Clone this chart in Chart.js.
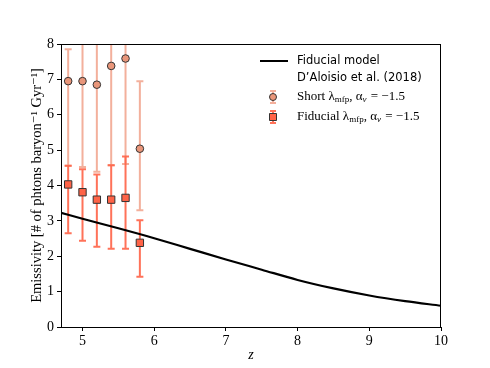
<!DOCTYPE html>
<html><head><meta charset="utf-8">
<script src="https://cdn.jsdelivr.net/npm/chart.js@4"></script>
<style>html,body{margin:0;padding:0;background:#fff}canvas{display:block}</style>
</head><body>
<canvas id="c" width="490" height="368"></canvas>
<script>
const zModel = [4.7, 5.0, 5.5, 6.0, 6.5, 7.0, 7.5, 8.0, 8.5, 9.0, 9.5, 10.0];
const emisModel = [3.23, 3.06, 2.79, 2.51, 2.21, 1.91, 1.62, 1.33, 1.09, 0.89, 0.73, 0.6];
const zData = [4.8, 5.0, 5.2, 5.4, 5.6, 5.8];
const shortVal = [6.95, 6.95, 6.85, 7.38, 7.59, 5.04];
const shortLo = [4.56, 4.52, 4.39, 4.57, 4.61, 3.3];
const shortHi = [7.85, 9.2, 9.4, 9.6, 9.9, 6.95];
const fidVal = [4.03, 3.81, 3.6, 3.6, 3.65, 2.38];
const fidLo = [2.65, 2.44, 2.27, 2.21, 2.21, 1.42];
const fidHi = [4.56, 4.46, 4.31, 4.57, 4.82, 3.02];
const xTicks = [5, 6, 7, 8, 9, 10];

const SHORT_FILL = '#E9967A', SHORT_BAR = 'rgba(238,145,118,0.72)';
const FID_FILL = '#FF6347', FID_BAR = 'rgba(255,99,71,0.9)';
const SERIF = '"Liberation Serif", "DejaVu Serif", serif';
const SANS = '"DejaVu Sans", sans-serif';

function drawBars(chart, lo, hi, color) {
  const ctx = chart.ctx, xs = chart.scales.x, ys = chart.scales.y, a = chart.chartArea;
  ctx.save();
  ctx.beginPath(); ctx.rect(a.left, a.top, a.right - a.left, a.bottom - a.top); ctx.clip();
  ctx.strokeStyle = color; ctx.lineWidth = 2;
  for (let i = 0; i < zData.length; i++) {
    const x = xs.getPixelForValue(zData[i]);
    const y1 = ys.getPixelForValue(lo[i]), y2 = ys.getPixelForValue(hi[i]);
    ctx.beginPath(); ctx.moveTo(x, y1); ctx.lineTo(x, y2);
    ctx.moveTo(x - 3.5, y1); ctx.lineTo(x + 3.5, y1);
    ctx.moveTo(x - 3.5, y2); ctx.lineTo(x + 3.5, y2);
    ctx.stroke();
  }
  ctx.restore();
}

const errPlugin = {
  id: 'err',
  beforeDatasetDraw(chart, args) {
    if (args.index === 1) drawBars(chart, shortLo, shortHi, SHORT_BAR);
    if (args.index === 2) drawBars(chart, fidLo, fidHi, FID_BAR);
  },
  afterDraw(chart) {
    const ctx = chart.ctx, a = chart.chartArea;
    ctx.save();
    ctx.strokeStyle = '#000'; ctx.lineWidth = 1;
    ctx.strokeRect(a.left + 0.5, a.top + 0.5, a.right - a.left - 1, a.bottom - a.top);
    // legend
    ctx.textBaseline = 'middle';
    ctx.fillStyle = '#000';
    ctx.lineWidth = 2;
    ctx.beginPath(); ctx.moveTo(260, 61); ctx.lineTo(288, 61); ctx.stroke();
    ctx.font = '11.5px ' + SANS;
    ctx.fillText('Fiducial model', 297, 61);
    ctx.fillText('D\u2019Aloisio et al. (2018)', 297, 78);
    function entry(y, word, fill, bar, square) {
      const x = 273;
      ctx.strokeStyle = bar; ctx.lineWidth = 2;
      ctx.beginPath(); ctx.moveTo(x, y - 6); ctx.lineTo(x, y + 6);
      ctx.moveTo(x - 3, y - 6); ctx.lineTo(x + 3, y - 6);
      ctx.moveTo(x - 3, y + 6); ctx.lineTo(x + 3, y + 6); ctx.stroke();
      ctx.fillStyle = fill; ctx.strokeStyle = '#333'; ctx.lineWidth = 1;
      ctx.beginPath();
      if (square) ctx.rect(x - 3.5, y - 3.5, 7, 7); else ctx.arc(x, y, 3.5, 0, Math.PI * 2);
      ctx.fill(); ctx.stroke();
      ctx.fillStyle = '#000';
      let cx = 297;
      ctx.font = '13px ' + SERIF;
      ctx.fillText(word + ' \u03bb', cx, y); cx += ctx.measureText(word + ' \u03bb').width;
      ctx.font = '9px ' + SERIF;
      ctx.fillText('mfp', cx, y + 3); cx += ctx.measureText('mfp').width;
      ctx.font = '13px ' + SERIF;
      ctx.fillText(', \u03b1', cx, y); cx += ctx.measureText(', \u03b1').width;
      ctx.font = 'italic 9px ' + SERIF;
      ctx.fillText('\u03bd', cx, y + 3); cx += ctx.measureText('\u03bd').width + 1;
      ctx.font = '13px ' + SERIF;
      ctx.fillText(' = \u22121.5', cx, y);
    }
    entry(97, 'Short', SHORT_FILL, SHORT_BAR, false);
    entry(117, 'Fiducial', FID_FILL, FID_BAR, true);
    ctx.restore();
  }
};

new Chart(document.getElementById('c'), {
  type: 'scatter',
  data: {
    datasets: [
      { type: 'line', data: zModel.map((z, i) => ({ x: z, y: emisModel[i] })), borderColor: '#000', borderWidth: 2.2,
        pointRadius: 0, cubicInterpolationMode: 'monotone', fill: false, order: 0 },
      { data: zData.map((z, i) => ({ x: z, y: shortVal[i] })), backgroundColor: SHORT_FILL, borderColor: '#333',
        borderWidth: 1, pointStyle: 'circle', pointRadius: 3.8, order: 2 },
      { data: zData.map((z, i) => ({ x: z, y: fidVal[i] })), backgroundColor: FID_FILL, borderColor: '#333',
        borderWidth: 1, pointStyle: 'rect', pointRadius: 5.2, order: 1 }
    ]
  },
  options: {
    responsive: false, animation: false,
    layout: { padding: { top: 44, right: 49, left: 0, bottom: 0 } },
    plugins: { legend: { display: false }, tooltip: { enabled: false } },
    scales: {
      x: {
        type: 'linear', min: 4.7, max: 10,
        afterBuildTicks: s => { s.ticks = xTicks.map(v => ({ value: v })); },
        afterFit: s => { s.height = 41; },
        grid: { drawOnChartArea: false, drawTicks: true, tickLength: 4, color: '#000' },
        border: { display: true, color: '#000', width: 1 },
        ticks: { color: '#000', font: { family: SERIF, size: 14 }, padding: 2, maxRotation: 0 },
        title: { display: true, text: 'z', color: '#000', font: { family: SERIF, size: 14, style: 'italic' }, padding: { top: 0, bottom: 4 } }
      },
      y: {
        min: 0, max: 8,
        afterFit: s => { s.width = 61; },
        grid: { drawOnChartArea: false, drawTicks: true, tickLength: 4, color: '#000' },
        border: { display: true, color: '#000', width: 1 },
        ticks: { stepSize: 1, color: '#000', font: { family: SERIF, size: 14 }, padding: 3 },
        title: { display: true, text: 'Emissivity [# of phtons baryon\u207b\u00b9 Gyr\u207b\u00b9]', color: '#000',
          font: { family: SERIF, size: 14.5 }, padding: { top: 28, bottom: 0 } }
      }
    }
  },
  plugins: [errPlugin]
});
</script>
</body></html>
